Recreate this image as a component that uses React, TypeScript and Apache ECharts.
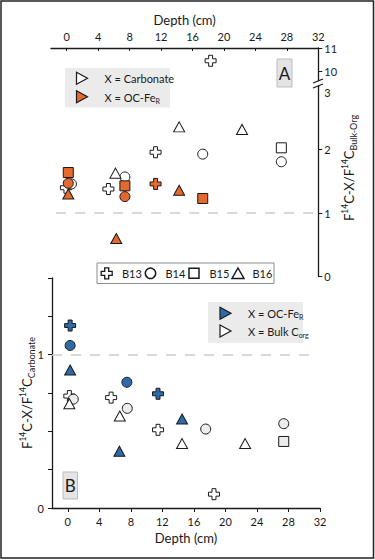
import React, { useEffect, useRef } from 'react';
import * as echarts from 'echarts';

type Pt = [number, number];

const depthTicks = [0, 4, 8, 12, 16, 20, 24, 28, 32];
const upperTicksA = [10, 11];
const lowerTicksA = [0, 1, 2];
const lowerLabelsA = [0, 1, 2, 3];

// Panel A — X = Carbonate (open symbols)
const aCarbB13: Pt[] = [[-0.1, 1.40], [5.3, 1.38], [11.3, 1.96]];
const aCarbB13High: Pt[] = [[18.3, 10.45]];
const aCarbB14: Pt[] = [[0.6, 1.46], [7.4, 1.57], [17.3, 1.93], [27.3, 1.81]];
const aCarbB15: Pt[] = [[27.3, 2.03]];
const aCarbB16: Pt[] = [[6.2, 1.63], [14.3, 2.36], [22.3, 2.32]];
// Panel A — X = OC-FeR (orange)
const aFeB13: Pt[] = [[11.3, 1.46]];
const aFeB14: Pt[] = [[0.2, 1.47], [7.4, 1.26]];
const aFeB15: Pt[] = [[0.2, 1.64], [7.4, 1.43], [17.3, 1.23]];
const aFeB16: Pt[] = [[0.2, 1.30], [6.3, 0.60], [14.3, 1.36]];

// Panel B — X = Bulk Corg (open symbols)
const bBulkB13: Pt[] = [[0.2, 0.73], [5.5, 0.72], [11.45, 0.51], [18.55, 0.09]];
const bBulkB14: Pt[] = [[0.7, 0.71], [7.55, 0.65], [17.5, 0.515], [27.4, 0.55]];
const bBulkB15: Pt[] = [[27.4, 0.434]];
const bBulkB16: Pt[] = [[0.2, 0.68], [6.6, 0.60], [14.5, 0.42], [22.5, 0.42]];
// Panel B — X = OC-FeR (blue)
const bFeB13: Pt[] = [[0.3, 1.19], [11.45, 0.745]];
const bFeB14: Pt[] = [[0.3, 1.06], [7.5, 0.82]];
const bFeB16: Pt[] = [[0.3, 0.90], [6.55, 0.37], [14.5, 0.58]];

const FONT = 'Lato';
const INK = '#1a1a1a';
const ORANGE = '#E3692E';
const BLUE = '#2E6BA6';
const OPEN = '#ffffff';
const OPEN_GRAY = '#ececec';

const CROSS = 'path://M3.2,0H6.8V3.2H10V6.8H6.8V10H3.2V6.8H0V3.2H3.2Z';
const SYM: Record<string, string> = { cross: CROSS, circle: 'circle', square: 'rect', triangle: 'triangle' };
const SIZE: Record<string, any> = { cross: 11, circle: 10, square: 10, triangle: [11, 10] };

function sc(name: string, data: Pt[], shape: string, fill: string, xi: number, yi: number, z: number, extra: any = {}) {
  return {
    type: 'scatter',
    name,
    data,
    xAxisIndex: xi,
    yAxisIndex: yi,
    symbol: SYM[shape],
    symbolSize: SIZE[shape],
    itemStyle: { color: fill, borderColor: INK, borderWidth: 1, opacity: 1 },
    z,
    silent: true,
    ...extra,
  };
}

const dashed = (from: number, to: number) => ({
  silent: true,
  symbol: 'none',
  label: { show: false },
  lineStyle: { color: '#cccccc', type: [10, 9], width: 1.5 },
  data: [[{ coord: [from, 1] }, { coord: [to, 1] }]],
});

function crossPts(cx: number, cy: number, s: number) {
  const a = s * 0.18, b = s / 2;
  return [
    [cx - a, cy - b], [cx + a, cy - b], [cx + a, cy - a], [cx + b, cy - a], [cx + b, cy + a], [cx + a, cy + a],
    [cx + a, cy + b], [cx - a, cy + b], [cx - a, cy + a], [cx - b, cy + a], [cx - b, cy - a], [cx - a, cy - a],
  ];
}

const txt = (x: number, y: number, text: string, size = 11, extra: any = {}) => ({
  type: 'text', x, y, silent: true,
  style: { text, fontFamily: FONT, fontSize: size, fill: INK, verticalAlign: 'middle', align: 'left', ...extra },
});

const subRich = {
  n: { fontFamily: FONT, fontSize: 11, fill: INK, lineHeight: 14 },
  s: { fontFamily: FONT, fontSize: 7, fill: INK, lineHeight: 8, verticalAlign: 'bottom' },
};

const nameRich = {
  n: { fontFamily: FONT, fontSize: 13, fill: INK, lineHeight: 17 },
  p: { fontFamily: FONT, fontSize: 8.5, fill: INK, lineHeight: 10, verticalAlign: 'top' },
  b: { fontFamily: FONT, fontSize: 9, fill: INK, lineHeight: 10, verticalAlign: 'bottom' },
};

const rightTri = (cx: number, cy: number, fill: string) => ({
  type: 'polygon', silent: true,
  shape: { points: [[cx - 5, cy - 6], [cx + 6, cy], [cx - 5, cy + 6]] },
  style: { fill, stroke: INK, lineWidth: 1.2 },
});

export default function App() {
  const ref = useRef<HTMLDivElement>(null);
  useEffect(() => {
    if (!ref.current) return;
    const chart = echarts.init(ref.current, undefined, { renderer: 'svg' });
    const axisLine = { show: true, onZero: false, lineStyle: { color: INK, width: 1.3 } };
    const labelStyle = { fontFamily: FONT, fontSize: 11, color: INK };

    const option: any = {
      animation: false,
      backgroundColor: '#ffffff',
      grid: [
        { left: 51, top: 48, width: 267.3, height: 32.5, outerBoundsMode: 'none' },
        { left: 51, top: 86.3, width: 267.3, height: 190.2, outerBoundsMode: 'none' },
        { left: 52, top: 278, width: 268, height: 230, outerBoundsMode: 'none' },
      ],
      xAxis: [
        {
          gridIndex: 0, type: 'value', position: 'top', min: -2, max: 32,
          axisLine, splitLine: { show: false },
          axisTick: { show: true, inside: true, length: 3, customValues: depthTicks, lineStyle: { color: INK } },
          axisLabel: { ...labelStyle, margin: 6, customValues: depthTicks },
          name: 'Depth (cm)', nameLocation: 'middle', nameGap: 22,
          nameTextStyle: { fontFamily: FONT, fontSize: 13, color: INK },
        },
        { gridIndex: 1, type: 'value', min: -2, max: 32, show: false },
        {
          gridIndex: 2, type: 'value', position: 'bottom', min: -2, max: 32,
          axisLine, splitLine: { show: false },
          axisTick: { show: true, length: 4, customValues: depthTicks, lineStyle: { color: INK } },
          axisLabel: { ...labelStyle, margin: 8, customValues: depthTicks },
          name: 'Depth (cm)', nameLocation: 'middle', nameGap: 23,
          nameTextStyle: { fontFamily: FONT, fontSize: 13, color: INK },
        },
      ],
      yAxis: [
        {
          gridIndex: 0, type: 'value', position: 'right', min: 9.6, max: 11,
          axisLine, splitLine: { show: false },
          axisTick: { show: true, length: 4, customValues: upperTicksA, lineStyle: { color: INK } },
          axisLabel: { ...labelStyle, margin: 6, customValues: upperTicksA },
        },
        {
          gridIndex: 1, type: 'value', position: 'right', min: 0, max: 3,
          axisLine, splitLine: { show: false },
          axisTick: { show: true, length: 4, customValues: lowerTicksA, lineStyle: { color: INK } },
          axisLabel: {
            ...labelStyle, margin: 6, customValues: lowerLabelsA,
            formatter: (v: number) => (v === 3 ? '{t|3}' : String(v)),
            rich: { t: { fontFamily: FONT, fontSize: 11, color: INK, padding: [12, 0, 0, 0] } },
          },
        },
        {
          gridIndex: 2, type: 'value', position: 'left', min: 0, max: 1.5, interval: 0.25,
          axisLine, splitLine: { show: false },
          axisTick: { show: true, length: 4, lineStyle: { color: INK } },
          axisLabel: {
            ...labelStyle, margin: 8,
            formatter: (v: number) => (v === 0 || v === 1 ? String(v) : ''),
          },
        },
      ],
      series: [
        // Panel A upper segment
        sc('B13 carbonate (high)', aCarbB13High, 'cross', OPEN, 0, 0, 3),
        // Panel A lower segment — carbonate
        sc('B13 carbonate', aCarbB13, 'cross', OPEN, 1, 1, 3, { markLine: dashed(-1.35, 32) }),
        sc('B14 carbonate', aCarbB14, 'circle', OPEN, 1, 1, 3),
        sc('B15 carbonate', aCarbB15, 'square', OPEN, 1, 1, 3),
        sc('B16 carbonate', aCarbB16, 'triangle', OPEN, 1, 1, 3),
        // Panel A — OC-FeR
        sc('B13 OC-FeR', aFeB13, 'cross', ORANGE, 1, 1, 4),
        sc('B16 OC-FeR', aFeB16, 'triangle', ORANGE, 1, 1, 4),
        sc('B14 OC-FeR', aFeB14, 'circle', ORANGE, 1, 1, 4),
        sc('B15 OC-FeR', aFeB15, 'square', ORANGE, 1, 1, 4),
        // Panel B — bulk
        sc('B13 bulk', bBulkB13, 'cross', OPEN, 2, 2, 3, { markLine: dashed(-2, 31.1) }),
        sc('B14 bulk', bBulkB14, 'circle', OPEN_GRAY, 2, 2, 3),
        sc('B15 bulk', bBulkB15, 'square', OPEN_GRAY, 2, 2, 3),
        sc('B16 bulk', bBulkB16, 'triangle', OPEN, 2, 2, 3),
        // Panel B — OC-FeR
        sc('B13 OC-FeR B', bFeB13, 'cross', BLUE, 2, 2, 4),
        sc('B14 OC-FeR B', bFeB14, 'circle', BLUE, 2, 2, 4),
        sc('B16 OC-FeR B', bFeB16, 'triangle', BLUE, 2, 2, 4),
      ],
      graphic: [
        // outer frame
        { type: 'rect', silent: true, shape: { x: 1, y: 1, width: 372.5, height: 557 }, style: { fill: 'none', stroke: '#222', lineWidth: 1.5 } },
        // axis break marks
        { type: 'rect', silent: true, shape: { x: 313, y: 81, width: 10, height: 5 }, style: { fill: '#fff' } },
        { type: 'line', silent: true, shape: { x1: 313, y1: 83, x2: 323, y2: 79 }, style: { stroke: INK, lineWidth: 1.2 } },
        { type: 'line', silent: true, shape: { x1: 313, y1: 88, x2: 323, y2: 84 }, style: { stroke: INK, lineWidth: 1.2 } },
        // Panel A legend
        { type: 'rect', silent: true, shape: { x: 65, y: 68, width: 105, height: 39.5 }, style: { fill: '#ebebeb' } },
        rightTri(81.5, 78.3, OPEN),
        rightTri(81.5, 96.7, ORANGE),
        txt(104.5, 78.3, 'X = Carbonate'),
        { type: 'text', x: 104.5, y: 97, silent: true, style: { text: '{n|X = OC-Fe}{s|R}', rich: subRich, verticalAlign: 'middle', align: 'left' } },
        // Panel A label box
        { type: 'rect', silent: true, shape: { x: 277, y: 59, width: 15, height: 28 }, style: { fill: '#e4e4e4', stroke: '#bdbdbd', lineWidth: 1 } },
        txt(284.5, 73, 'A', 17, { align: 'center' }),
        // Panel A y-axis name
        {
          type: 'text', x: 349, y: 168, rotation: Math.PI / 2, silent: true,
          style: { text: '{n|F}{p|14}{n|C-X/F}{p|14}{n|C}{b|Bulk-Org}', rich: nameRich, align: 'center', verticalAlign: 'middle' },
        },
        // site legend
        { type: 'rect', silent: true, shape: { x: 97, y: 263, width: 177, height: 20.5 }, style: { fill: '#fff', stroke: '#8c8c8c', lineWidth: 1 } },
        { type: 'polygon', silent: true, shape: { points: crossPts(106.7, 273.3, 11) }, style: { fill: '#fff', stroke: INK, lineWidth: 1.3 } },
        txt(122, 273.5, 'B13'),
        { type: 'circle', silent: true, shape: { cx: 150.5, cy: 273.3, r: 5.2 }, style: { fill: '#fff', stroke: INK, lineWidth: 1.5 } },
        txt(165.5, 273.5, 'B14'),
        { type: 'rect', silent: true, shape: { x: 189, y: 268.3, width: 10, height: 10 }, style: { fill: '#fff', stroke: INK, lineWidth: 1.5 } },
        txt(209.5, 273.5, 'B15'),
        { type: 'polygon', silent: true, shape: { points: [[238, 268], [244, 278.5], [232, 278.5]] }, style: { fill: '#fff', stroke: INK, lineWidth: 1.5 } },
        txt(252.5, 273.5, 'B16'),
        // Panel B legend
        { type: 'rect', silent: true, shape: { x: 208, y: 302, width: 95, height: 41 }, style: { fill: '#ebebeb' } },
        rightTri(225, 313.3, BLUE),
        rightTri(225, 331, OPEN),
        { type: 'text', x: 248, y: 313.5, silent: true, style: { text: '{n|X = OC-Fe}{s|R}', rich: subRich, verticalAlign: 'middle', align: 'left' } },
        { type: 'text', x: 248, y: 331.5, silent: true, style: { text: '{n|X = Bulk C}{s|org}', rich: subRich, verticalAlign: 'middle', align: 'left' } },
        // Panel B label box
        { type: 'rect', silent: true, shape: { x: 63, y: 472, width: 14.5, height: 27 }, style: { fill: '#e4e4e4', stroke: '#bdbdbd', lineWidth: 1 } },
        txt(70.3, 485.5, 'B', 17, { align: 'center' }),
        // Panel B y-axis name
        {
          type: 'text', x: 27, y: 393, rotation: Math.PI / 2, silent: true,
          style: { text: '{n|F}{p|14}{n|C-X/F}{p|14}{n|C}{b|Carbonate}', rich: nameRich, align: 'center', verticalAlign: 'middle' },
        },
      ],
    };
    chart.setOption(option);
    return () => chart.dispose();
  }, []);
  return <div ref={ref} style={{ position: 'absolute', left: 0, top: 0, width: 375, height: 560 }} />;
}
